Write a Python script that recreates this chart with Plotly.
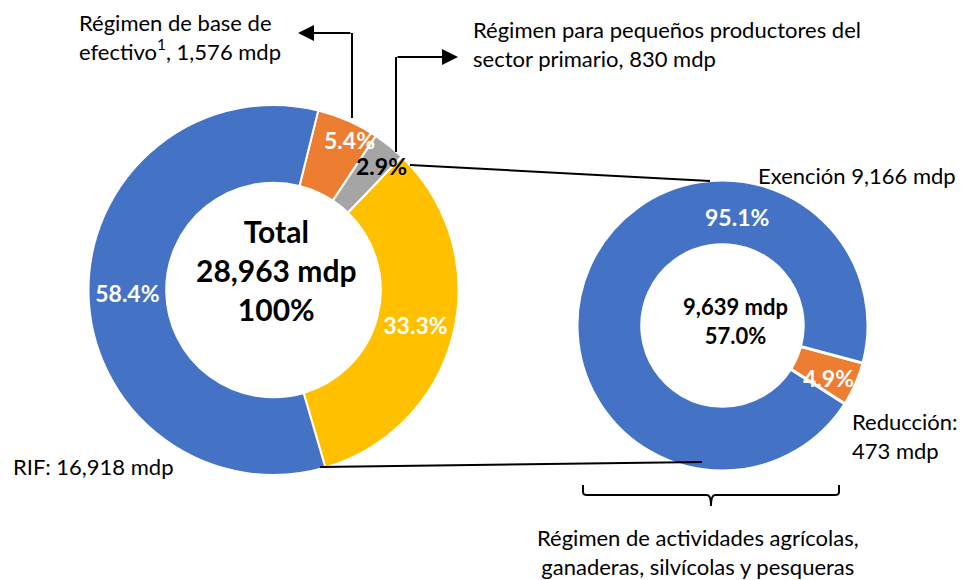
import plotly.graph_objects as go

W, H = 969, 580
OFF = 8  # default page body margin of the browser
FW, FH = W - OFF, H - OFF
FONT = "Lato"

# ---- data ----
left_labels = ["Régimen de base de efectivo", "Régimen para pequeños productores del sector primario",
               "Régimen de actividades agrícolas, ganaderas, silvícolas y pesqueras", "RIF"]
left_values = [1576, 830, 9639, 16918]
left_colors = ["#ED7D31", "#A5A5A5", "#FFC000", "#4472C4"]
left_text = ["", "", "33.3%", "58.4%"]

right_labels = ["Reducción", "Exención"]
right_values = [473, 9166]
right_colors = ["#ED7D31", "#4472C4"]


def px(x):
    return (x - OFF) / FW


def py(y):
    return 1 - (y - OFF) / FH


def dom(cx, cy, r):
    return dict(x=[px(cx - r), px(cx + r)], y=[py(cy + r), py(cy - r)])


fig = go.Figure()
fig.add_trace(go.Pie(
    labels=left_labels, values=left_values, sort=False, direction="clockwise", rotation=14,
    hole=0.58, domain=dom(273.5, 290, 185),
    marker=dict(colors=left_colors, line=dict(color="white", width=2)),
    text=left_text, textinfo="text", textposition="inside", insidetextorientation="horizontal",
    textfont=dict(family=FONT, size=23, color="white", weight="bold"),
    showlegend=False, hoverinfo="label+value+percent",
))
fig.add_trace(go.Pie(
    labels=right_labels, values=right_values, sort=False, direction="clockwise", rotation=105,
    hole=0.555, domain=dom(722.5, 325.5, 145.5),
    marker=dict(colors=right_colors, line=dict(color="white", width=3)),
    textinfo="none", showlegend=False, hoverinfo="label+value+percent",
))

ann = []


def txt(x, y, s, size=22, color="black", bold=False, xanchor="left", align="left", yanchor="middle"):
    ann.append(dict(x=px(x), y=py(y), xref="paper", yref="paper", text=s, showarrow=False,
                    xanchor=xanchor, yanchor=yanchor, align=align, borderpad=0,
                    font=dict(family=FONT, size=size, color=color, weight="bold" if bold else "normal")))


# centre texts
txt(276, 270, "Total<br>28,963 mdp<br>100%", size=30, bold=True, xanchor="center", align="center")
txt(735, 321, "9,639 mdp<br>57.0%", size=22, bold=True, xanchor="center", align="center")

# small-slice percentages
txt(349, 140, "5.4%", size=23, color="white", bold=True, xanchor="center")
txt(381, 166, "2.9%", size=23, color="black", bold=True, xanchor="center")
txt(737, 217, "95.1%", size=23, color="white", bold=True, xanchor="center")
txt(828, 378, "4.9%", size=23, color="white", bold=True, xanchor="center")

# category labels
txt(78, 8.5, "Régimen de base de<br>efectivo<sup>1</sup>, 1,576 mdp", yanchor="top")
txt(472, 44, "Régimen para pequeños productores del<br>sector primario, 830 mdp")
txt(757, 175, "Exención 9,166 mdp")
txt(851, 436, "Reducción:<br>473 mdp")
txt(12, 467, "RIF: 16,918 mdp")
txt(698, 552, "Régimen de actividades agrícolas,<br>ganaderas, silvícolas y pesqueras",
    xanchor="center", align="center")

# arrows (horizontal heads)
for (tx, ty, ax) in [(298, 33, 54), (458, 57, -62)]:
    ann.append(dict(x=px(tx), y=py(ty), xref="paper", yref="paper", ax=ax, ay=0, text="",
                    showarrow=True, arrowhead=2, arrowsize=1.6, arrowwidth=2, arrowcolor="black"))

fig.update_layout(annotations=ann)

shapes = []


def line(x0, y0, x1, y1, w=2):
    shapes.append(dict(type="line", xref="paper", yref="paper", x0=px(x0), y0=py(y0), x1=px(x1), y1=py(y1),
                       line=dict(color="black", width=w)))


line(352, 118, 352, 33)
line(396, 152, 396, 57)
line(410, 165, 710, 181)
line(320, 467, 702, 462)

# bracket
bx0, bx1, bm, by0, by1, by2 = 583, 839, 711, 485, 495, 506
path = (f"M {px(bx0)},{py(by0)} L {px(bx0)},{py(by1-3)} Q {px(bx0)},{py(by1)} {px(bx0+4)},{py(by1)} "
        f"L {px(bm-4)},{py(by1)} Q {px(bm)},{py(by1)} {px(bm)},{py(by2)} "
        f"Q {px(bm)},{py(by1)} {px(bm+4)},{py(by1)} L {px(bx1-4)},{py(by1)} "
        f"Q {px(bx1)},{py(by1)} {px(bx1)},{py(by1-3)} L {px(bx1)},{py(by0)}")
shapes.append(dict(type="path", xref="paper", yref="paper", path=path, line=dict(color="black", width=2)))

fig.update_layout(
    shapes=shapes,
    width=FW, height=FH, margin=dict(l=0, r=0, t=0, b=0),
    paper_bgcolor="white", plot_bgcolor="white",
    font=dict(family=FONT),
)
fig.write_html("out.html")
